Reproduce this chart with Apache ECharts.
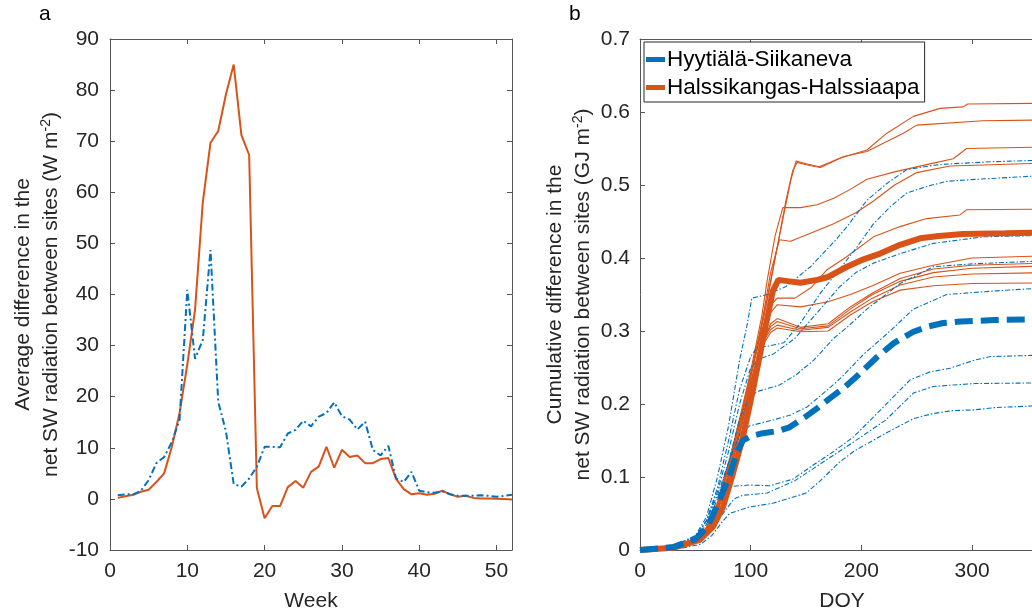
<!DOCTYPE html>
<html>
<head>
<meta charset="utf-8">
<script src="https://cdn.jsdelivr.net/npm/echarts@6/dist/echarts.min.js"></script>
<style>
  html, body { margin: 0; padding: 0; background: #fff; }
  #chart { width: 1032px; height: 613px; }
</style>
</head>
<body>
<div id="chart"></div>
<script>
// ---------- Panel a: weekly mean difference in net SW radiation (W m-2) ----------
const weeks = [1,2,3,4,5,6,7,8,9,10,11,12,13,14,15,16,17,18,19,20,21,22,23,24,25,26,
               27,28,29,30,31,32,33,34,35,36,37,38,39,40,41,42,43,44,45,46,47,48,49,50,51,52];
const weeklyHyytiala = [0.7,0.9,0.9,1.6,3.7,7.0,8.2,11.1,15.5,40.9,27.4,31.1,48.7,19.0,13.2,2.9,2.4,4.0,6.3,10.2,
                        10.2,10.1,12.8,13.5,15.3,14.2,16.1,16.8,18.9,16.2,15.5,13.6,15.1,9.6,8.5,10.4,4.0,3.3,5.3,1.6,
                        1.3,1.2,1.5,0.9,0.6,0.6,0.6,0.7,0.6,0.4,0.6,0.8];
const weeklyHalssi = [0.2,0.5,0.8,1.4,1.8,3.3,5.0,10.2,16.8,26.3,37.0,58.0,69.7,72.0,79.2,85.0,71.2,67.3,2.1,-3.8,
                      -1.4,-1.4,2.3,3.5,2.2,5.3,6.3,10.2,6.1,9.6,8.2,8.5,7.0,7.0,7.8,8.0,3.9,1.9,0.9,1.1,
                      0.8,1.0,1.6,0.9,0.4,0.6,0.2,0.1,0.1,0.05,0.0,-0.1];

// ---------- Panel b: cumulative difference (GJ m-2) against DOY ----------
// Hyytiälä-Siikaneva, individual years
const hy1 = [[0,0],[30,0.005],[50,0.02],[60,0.045],[70,0.1],[80,0.17],[90,0.26],[97,0.31],[101,0.345],[115,0.35],[132,0.361],[154,0.388],[177,0.425],[187,0.443],[205,0.479],[223,0.502],[241,0.521],[265,0.527],[280,0.529],[320,0.532],[365,0.534]];
const hy2 = [[0,0],[30,0.004],[50,0.018],[60,0.04],[70,0.085],[80,0.15],[90,0.22],[100,0.265],[106,0.278],[115,0.279],[130,0.284],[145,0.311],[163,0.352],[181,0.386],[196,0.415],[211,0.447],[226,0.47],[241,0.489],[259,0.498],[277,0.505],[295,0.507],[365,0.513]];
const hy3 = [[0,0],[30,0.004],[50,0.017],[60,0.04],[70,0.08],[80,0.135],[90,0.2],[100,0.25],[108,0.262],[120,0.268],[140,0.29],[160,0.325],[180,0.36],[195,0.38],[211,0.393],[235,0.406],[265,0.42],[310,0.429],[365,0.431]];
const hy4 = [[0,0],[30,0.004],[50,0.015],[60,0.035],[70,0.07],[80,0.12],[90,0.18],[100,0.212],[108,0.218],[117,0.222],[126,0.226],[141,0.24],[157,0.26],[175,0.29],[187,0.305],[205,0.33],[235,0.365],[265,0.388],[300,0.392],[365,0.396]];
const hy5 = [[0,0],[30,0.005],[50,0.018],[60,0.04],[70,0.075],[80,0.12],[90,0.158],[99,0.17],[120,0.178],[136,0.185],[151,0.196],[169,0.219],[181,0.235],[202,0.268],[226,0.3],[247,0.33],[277,0.35],[322,0.355],[365,0.359]];
const hy6 = [[0,0],[30,0.003],[50,0.012],[60,0.025],[70,0.05],[81,0.087],[99,0.089],[117,0.088],[138,0.097],[160,0.12],[175,0.135],[193,0.155],[220,0.196],[244,0.233],[262,0.244],[280,0.249],[302,0.26],[317,0.265],[365,0.267]];
const hy7 = [[0,0],[30,0.003],[50,0.01],[60,0.02],[70,0.04],[85,0.07],[93,0.075],[115,0.078],[140,0.095],[163,0.118],[193,0.148],[222,0.178],[247,0.215],[265,0.224],[283,0.226],[302,0.228],[365,0.229]];
const hy8 = [[0,0],[40,0.003],[55,0.008],[65,0.02],[75,0.04],[81,0.05],[99,0.059],[120,0.064],[150,0.078],[163,0.095],[180,0.12],[193,0.135],[222,0.16],[247,0.18],[265,0.187],[283,0.191],[302,0.192],[320,0.195],[365,0.198]];
const hyMean = [[0,0],[30,0.004],[50,0.015],[60,0.03],[65,0.045],[70,0.062],[80,0.098],[88,0.135],[93,0.15],[100,0.156],[111,0.16],[125,0.163],[135,0.168],[150,0.183],[160,0.194],[170,0.206],[184,0.222],[196,0.238],[214,0.264],[229,0.283],[247,0.299],[260,0.306],[274,0.311],[290,0.313],[320,0.315],[365,0.316]];

// Halssikangas-Halssiaapa, individual years
const ha1 = [[0,0],[30,0.003],[50,0.013],[60,0.03],[70,0.063],[80,0.115],[90,0.175],[100,0.24],[110,0.31],[115,0.345],[122,0.4],[130,0.46],[136,0.505],[141,0.533],[150,0.529],[162,0.525],[181,0.537],[205,0.548],[223,0.571],[247,0.594],[271,0.605],[292,0.607],[296,0.611],[365,0.612]];
const ha2 = [[0,0],[30,0.003],[50,0.012],[60,0.028],[70,0.06],[80,0.112],[90,0.172],[100,0.235],[110,0.305],[116,0.35],[124,0.415],[132,0.48],[138,0.52],[142,0.531],[152,0.527],[163,0.524],[184,0.539],[205,0.546],[217,0.555],[238,0.571],[250,0.582],[310,0.588],[365,0.589]];
const ha3 = [[0,0],[30,0.003],[50,0.014],[60,0.031],[70,0.065],[80,0.118],[90,0.18],[100,0.245],[110,0.32],[115,0.37],[122,0.43],[129,0.469],[145,0.469],[160,0.473],[175,0.482],[190,0.494],[205,0.508],[230,0.518],[265,0.53],[283,0.536],[295,0.55],[365,0.552]];
const ha4 = [[0,0],[30,0.003],[50,0.012],[60,0.029],[70,0.061],[80,0.112],[90,0.172],[100,0.238],[110,0.31],[118,0.38],[126,0.425],[136,0.423],[154,0.434],[175,0.447],[195,0.462],[211,0.478],[230,0.5],[250,0.517],[280,0.526],[365,0.53]];
const ha5 = [[0,0],[30,0.003],[50,0.013],[60,0.03],[70,0.062],[80,0.113],[90,0.173],[100,0.24],[110,0.3],[118,0.335],[124,0.345],[140,0.345],[155,0.36],[169,0.384],[187,0.402],[211,0.429],[235,0.443],[259,0.454],[289,0.459],[295,0.466],[365,0.467]];
const ha6 = [[0,0],[30,0.002],[50,0.011],[60,0.027],[70,0.057],[80,0.105],[90,0.165],[100,0.23],[110,0.29],[118,0.325],[124,0.336],[145,0.333],[170,0.34],[190,0.35],[210,0.362],[235,0.379],[265,0.39],[300,0.4],[365,0.403]];
const ha7 = [[0,0],[30,0.002],[50,0.01],[60,0.025],[70,0.054],[80,0.1],[90,0.16],[100,0.222],[110,0.28],[118,0.31],[124,0.317],[145,0.305],[170,0.31],[190,0.333],[210,0.352],[235,0.372],[265,0.385],[300,0.39],[365,0.393]];
const ha8 = [[0,0],[30,0.002],[50,0.011],[60,0.026],[70,0.055],[80,0.102],[90,0.162],[100,0.225],[110,0.282],[118,0.302],[124,0.308],[145,0.301],[170,0.305],[190,0.326],[210,0.345],[235,0.363],[265,0.374],[300,0.378],[365,0.38]];
const ha9 = [[0,0],[30,0.002],[50,0.01],[60,0.024],[70,0.052],[80,0.098],[90,0.158],[100,0.22],[110,0.278],[118,0.298],[124,0.304],[145,0.299],[170,0.3],[190,0.322],[210,0.34],[235,0.356],[265,0.362],[300,0.365],[365,0.366]];
const ha10 = [[0,0],[30,0.002],[50,0.011],[60,0.027],[70,0.056],[80,0.104],[90,0.164],[100,0.228],[110,0.285],[118,0.306],[124,0.313],[145,0.303],[170,0.307],[190,0.33],[210,0.35],[235,0.368],[265,0.38],[300,0.386],[365,0.389]];
const haMean = [[0,0],[30,0.003],[54,0.014],[66,0.032],[75,0.059],[84,0.105],[93,0.155],[102,0.219],[108,0.265],[111,0.288],[116,0.325],[120,0.355],[125,0.37],[135,0.368],[145,0.366],[160,0.37],[170,0.374],[187,0.388],[200,0.397],[217,0.406],[235,0.418],[253,0.427],[270,0.43],[292,0.433],[330,0.434],[365,0.435]];

const hyRuns = [hy1, hy2, hy3, hy4, hy5, hy6, hy7, hy8];
const haRuns = [ha1, ha2, ha3, ha4, ha5, ha6, ha7, ha8, ha9, ha10];

const BLUE = '#0072BD';
const ORANGE = '#D95319';
const INK = '#262626';
const FRAME = '#555555';
const FONT = 'Liberation Sans, Arial, sans-serif';

const chart = echarts.init(document.getElementById('chart'), null, { renderer: 'canvas' });

function frameAxis(extra) {
  return Object.assign({
    type: 'value',
    axisLine: { show: true, onZero: false, lineStyle: { color: FRAME, width: 1 } },
    axisTick: { show: true, inside: true, length: 5, lineStyle: { color: FRAME, width: 1 } },
    axisLabel: { show: false },
    splitLine: { show: false }
  }, extra);
}

const labelStyle = { fontSize: 21, color: INK, fontFamily: FONT };
const nameStyle = {
  fontSize: 21, color: INK, fontFamily: FONT, lineHeight: 28,
  rich: { sup: { fontSize: 14, fontFamily: FONT, color: INK, padding: [0, 0, 10, 0] } }
};

const series = [];
// panel a
series.push({
  type: 'line', name: 'weeklyHalssi', xAxisIndex: 0, yAxisIndex: 0,
  data: weeks.map((w, i) => [w, weeklyHalssi[i]]),
  showSymbol: false, lineStyle: { color: ORANGE, width: 2 }, z: 3
});
series.push({
  type: 'line', name: 'weeklyHyytiala', xAxisIndex: 0, yAxisIndex: 0,
  data: weeks.map((w, i) => [w, weeklyHyytiala[i]]),
  showSymbol: false, lineStyle: { color: BLUE, width: 2, type: [7, 3, 2, 3] }, z: 4
});
// panel b: thin yearly curves
haRuns.forEach((run, k) => series.push({
  type: 'line', name: 'ha-year-' + k, xAxisIndex: 2, yAxisIndex: 2, data: run,
  showSymbol: false, lineStyle: { color: ORANGE, width: 1.1 }, z: 2
}));
hyRuns.forEach((run, k) => series.push({
  type: 'line', name: 'hy-year-' + k, xAxisIndex: 2, yAxisIndex: 2, data: run,
  showSymbol: false, lineStyle: { color: BLUE, width: 1.1, type: [5, 2, 1.5, 2] }, z: 3
}));
// panel b: multi-year means
series.push({
  type: 'line', name: 'Halssikangas-Halssiaapa', xAxisIndex: 2, yAxisIndex: 2, data: haMean,
  showSymbol: false, lineStyle: { color: ORANGE, width: 6 }, itemStyle: { color: ORANGE }, z: 5
});
series.push({
  type: 'line', name: 'Hyytiälä-Siikaneva', xAxisIndex: 2, yAxisIndex: 2, data: hyMean,
  showSymbol: false, lineStyle: { color: BLUE, width: 6, type: [18, 8] }, itemStyle: { color: BLUE }, z: 6
});

const option = {
  animation: false,
  backgroundColor: '#ffffff',
  grid: [
    { left: 110, top: 39, width: 402, height: 511, outerBoundsMode: 'none', containLabel: false },
    { left: 640, top: 39, width: 404, height: 511, outerBoundsMode: 'none', containLabel: false }
  ],
  xAxis: [
    frameAxis({
      gridIndex: 0, position: 'bottom', min: 0, max: 52, interval: 10,
      axisLabel: Object.assign({ show: true, margin: 11, formatter: v => (v % 10 === 0 ? String(v) : '') }, labelStyle),
      name: 'Week', nameLocation: 'middle', nameGap: 37, nameTextStyle: nameStyle
    }),
    frameAxis({ gridIndex: 0, position: 'top', min: 0, max: 52, interval: 10 }),
    frameAxis({
      gridIndex: 1, position: 'bottom', min: 0, max: 365, interval: 100,
      axisLabel: Object.assign({ show: true, margin: 11, formatter: v => (v % 100 === 0 ? String(v) : '') }, labelStyle),
      name: 'DOY', nameLocation: 'middle', nameGap: 37, nameTextStyle: nameStyle
    }),
    frameAxis({ gridIndex: 1, position: 'top', min: 0, max: 365, interval: 100 })
  ],
  yAxis: [
    frameAxis({
      gridIndex: 0, position: 'left', min: -10, max: 90, interval: 10,
      axisLabel: Object.assign({ show: true, margin: 11 }, labelStyle),
      name: 'Average difference in the\nnet SW radiation between sites (W m{sup|-2})',
      nameLocation: 'middle', nameGap: 43, nameTextStyle: nameStyle
    }),
    frameAxis({ gridIndex: 0, position: 'right', min: -10, max: 90, interval: 10 }),
    frameAxis({
      gridIndex: 1, position: 'left', min: 0, max: 0.7, interval: 0.1,
      axisLabel: Object.assign({ show: true, margin: 10 }, labelStyle),
      name: 'Cumulative difference in the\nnet SW radiation between sites (GJ m{sup|-2})',
      nameLocation: 'middle', nameGap: 43, nameTextStyle: nameStyle
    }),
    frameAxis({ gridIndex: 1, position: 'right', min: 0, max: 0.7, interval: 0.1 })
  ],
  legend: {
    data: ['Hyytiälä-Siikaneva', 'Halssikangas-Halssiaapa'],
    orient: 'vertical', align: 'left',
    left: 644, top: 42,
    padding: [6, 5, 3, 2],
    itemGap: 5,
    itemWidth: 19, itemHeight: 5, icon: 'rect',
    backgroundColor: '#ffffff',
    borderColor: INK, borderWidth: 1, borderRadius: 0,
    textStyle: { fontSize: 22.5, color: '#000000', fontFamily: FONT, padding: [0, 0, 0, -3] },
    selectedMode: false
  },
  graphic: [
    { type: 'text', left: 39, top: 4, style: { text: 'a', fontSize: 21, fill: '#000', fontFamily: FONT } },
    { type: 'text', left: 569, top: 4, style: { text: 'b', fontSize: 21, fill: '#000', fontFamily: FONT } }
  ],
  series: series
};

chart.setOption(option);
</script>
</body>
</html>
